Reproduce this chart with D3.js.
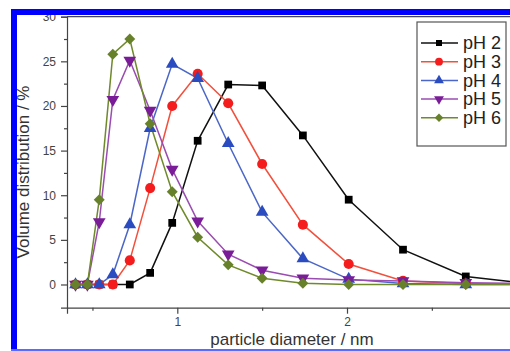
<!DOCTYPE html>
<html>
<head>
<meta charset="utf-8">
<script src="https://cdn.jsdelivr.net/npm/d3@7"></script>
<style>
  body { margin: 0; background: #fff; }
  svg { display: block; font-family: Arial, "Liberation Sans", sans-serif; }
  .axis path, .axis line { stroke: #444; stroke-width: 1.2; }
  .axis text { fill: #444; font-size: 12px; }
</style>
</head>
<body>
<div class="chart"></div>
<script>
// particle diameter bins (nm)
const diameters = [0.40, 0.47, 0.54, 0.62, 0.72, 0.84, 0.97, 1.12, 1.30, 1.50, 1.74, 2.01, 2.33, 2.70, 3.12];

// volume distribution (%) per pH
const ph2 = [0, 0, 0, 0, 0, 1.3, 6.9, 16.1, 22.4, 22.3, 16.7, 9.5, 3.9, 0.9, 0];
const ph3 = [0, 0, 0, 0, 2.7, 10.8, 20.0, 23.6, 20.3, 13.5, 6.7, 2.3, 0.4, 0.1, 0];
const ph4 = [0, 0, 0, 1.1, 6.7, 17.5, 24.7, 23.1, 15.8, 8.1, 2.9, 0.6, 0.1, 0, 0];
const ph5 = [0, 0, 7.0, 20.7, 25.1, 19.5, 12.9, 7.1, 3.4, 1.6, 0.7, 0.5, 0.4, 0.2, 0.1];
const ph6 = [0, 0, 9.5, 25.8, 27.5, 18.0, 10.4, 5.3, 2.2, 0.7, 0.15, 0, 0, 0, 0];

const seriesNames = ["pH 2", "pH 3", "pH 4", "pH 5", "pH 6"];
const yTicks = [0, 5, 10, 15, 20, 25, 30];
const xTicks = [1, 2];

const series = [
  {name: seriesNames[0], values: ph2, line: "#111", fill: "#000", shape: d3.symbolSquare, size: 60, rot: 0},
  {name: seriesNames[1], values: ph3, line: "#f2503c", fill: "#f41c1c", shape: d3.symbolCircle, size: 80, rot: 0},
  {name: seriesNames[2], values: ph4, line: "#4a66c8", fill: "#2a4cc0", shape: d3.symbolTriangle, size: 70, rot: 0},
  {name: seriesNames[3], values: ph5, line: "#9a4cb0", fill: "#7a1c98", shape: d3.symbolTriangle, size: 70, rot: 180},
  {name: seriesNames[4], values: ph6, line: "#6f8a2a", fill: "#67802a", shape: d3.symbolSquare, size: 60, rot: 45}
];

const width = 510, height = 351;

const svg = d3.select(".chart").append("svg")
  .attr("width", width)
  .attr("height", height);

const x = d3.scaleLinear().domain([0.35, 3]).range([67, 516.7]);
const y = d3.scaleLinear().domain([-2.6, 30]).range([307.7, 16.7]);

// axes
svg.append("g")
    .attr("class", "axis")
    .attr("transform", "translate(0," + y(-2.6) + ")")
    .call(d3.axisBottom(x).tickValues(xTicks).tickSize(6).tickPadding(4).tickFormat(d3.format("d")));

svg.append("g")
    .attr("class", "axis")
    .attr("transform", "translate(0," + y(-2.6) + ")")
    .call(d3.axisBottom(x).tickValues([0.5, 1.5, 2.5]).tickSize(3).tickFormat(""))
    .select(".domain").remove();

svg.append("g")
    .attr("class", "axis")
    .attr("transform", "translate(" + x(0.35) + ",0)")
    .call(d3.axisLeft(y).tickValues(yTicks).tickSize(6).tickPadding(5));

svg.append("g")
    .attr("class", "axis")
    .attr("transform", "translate(" + x(0.35) + ",0)")
    .call(d3.axisLeft(y).tickValues([2.5, 7.5, 12.5, 17.5, 22.5, 27.5]).tickSize(3).tickFormat(""))
    .select(".domain").remove();

// top frame line
svg.append("line")
    .attr("x1", x(0.35)).attr("x2", x(3))
    .attr("y1", y(30)).attr("y2", y(30))
    .attr("stroke", "#444").attr("stroke-width", 1.2);

// series
const line = d3.line()
  .x((d, i) => x(diameters[i]))
  .y(d => y(d));

series.forEach(s => {
  svg.append("path")
      .datum(s.values)
      .attr("fill", "none")
      .attr("stroke", s.line)
      .attr("stroke-width", 1.5)
      .attr("d", line);
});

series.forEach(s => {
  svg.append("g").selectAll("path")
      .data(s.values)
    .enter().append("path")
      .attr("d", d3.symbol().type(s.shape).size(s.size))
      .attr("transform", (d, i) => "translate(" + x(diameters[i]) + "," + y(d) + ") rotate(" + s.rot + ")")
      .attr("fill", s.fill);
});

// legend
const legend = svg.append("g").attr("transform", "translate(417,22)");
legend.append("rect")
    .attr("width", 89).attr("height", 124)
    .attr("fill", "#fff").attr("stroke", "#555").attr("stroke-width", 1.2);

const item = legend.selectAll(".item")
    .data(series)
  .enter().append("g")
    .attr("class", "item")
    .attr("transform", (d, i) => "translate(0," + (21 + i * 18.7) + ")");

item.append("line")
    .attr("x1", 4).attr("x2", 41)
    .attr("stroke", d => d.line).attr("stroke-width", 1.5);
item.append("path")
    .attr("d", d => d3.symbol().type(d.shape).size(d.size * 0.6)())
    .attr("transform", d => "translate(22,0) rotate(" + d.rot + ")")
    .attr("fill", d => d.fill);
item.append("text")
    .attr("x", 46).attr("dy", "0.35em")
    .attr("fill", "#222")
    .style("font-size", "18px")
    .text(d => d.name);

// axis titles
svg.append("text")
    .attr("transform", "translate(29,172) rotate(-90)")
    .attr("text-anchor", "middle")
    .attr("fill", "#333")
    .style("font-size", "17px")
    .text("Volume distribution / %");

svg.append("text")
    .attr("x", 292).attr("y", 345)
    .attr("text-anchor", "middle")
    .attr("fill", "#333")
    .style("font-size", "17px")
    .text("particle diameter / nm");

// blue frame of the figure
svg.append("rect").attr("x", 11).attr("y", 9).attr("width", width - 11).attr("height", 6).attr("fill", "#0000ff");
svg.append("rect").attr("x", 11).attr("y", 9).attr("width", 6).attr("height", height - 9).attr("fill", "#0000ff");
svg.append("rect").attr("x", 11).attr("y", 349).attr("width", width - 11).attr("height", 2).attr("fill", "#5a6cff");
</script>
</body>
</html>
